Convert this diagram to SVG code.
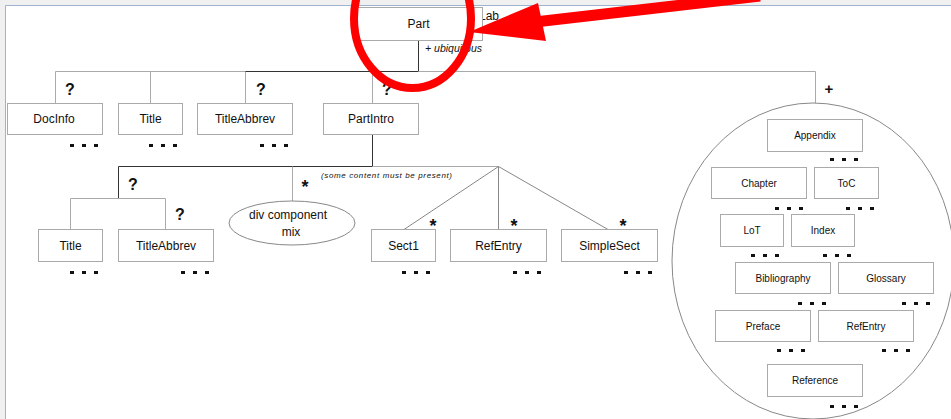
<svg xmlns="http://www.w3.org/2000/svg" width="951" height="419" viewBox="0 0 951 419">
<defs>
<style>
.box{fill:#fff;stroke:#aaa;stroke-width:1}
.lt{stroke:#aaa;stroke-width:1;fill:none}
.dk{stroke:#333;stroke-width:1;fill:none}
.md{stroke:#888;stroke-width:1;fill:none}
.t{font-family:"Liberation Sans",Arial,sans-serif;font-size:12px;text-anchor:middle;fill:#111}
.s{font-size:10px}
.mk{font-family:"Liberation Sans",Arial,sans-serif;font-weight:bold;fill:#111;text-anchor:middle}
.q{font-size:16px}
.st{font-size:18px}
.dots{stroke:#111;stroke-width:3;stroke-dasharray:4 8;fill:none}
.it{font-family:"Liberation Sans",Arial,sans-serif;font-style:italic;fill:#111}
</style>
</defs>
<rect width="951" height="419" fill="#f0f0f0"/>
<rect x="6" y="6" width="945" height="413" fill="#fff"/>
<path d="M5.5 419V5.5H951" fill="none" stroke="#9fb2ce" stroke-width="1"/>

<g id="connectors">
<path class="dk" d="M418.5 40V71.5H245"/>
<path class="lt" d="M245 71.5H55.5V103"/>
<path class="lt" d="M150.5 71.5V103"/>
<path class="lt" d="M245.5 71.5V103"/>
<path class="lt" d="M372.5 71.5V103"/>
<path class="lt" d="M418.5 71.5H815.5V103"/>
<path class="dk" d="M372.5 134V166.5H118.5V198"/>
<path class="lt" d="M372.5 166.5H498.5"/>
<path class="lt" d="M70.5 229V198.5H165.5V229"/>
<path class="lt" d="M292.5 166.5V201"/>
<path class="md" d="M498.5 166.5L404 229.5M498.5 166.5V229.5M498.5 166.5L608 229.5"/>
<ellipse cx="813" cy="261" rx="141" ry="158" fill="none" stroke="#888" stroke-width="1"/>
</g>

<g id="labels">
<text class="mk q" x="70" y="95">?</text>
<text class="mk q" x="261" y="95">?</text>
<text class="mk q" x="387" y="95">?</text>
<text class="mk q" x="133" y="190">?</text>
<text class="mk q" x="180" y="220">?</text>
<text class="mk st" x="305" y="193">*</text>
<text class="mk st" x="433" y="232">*</text>
<text class="mk st" x="514" y="232">*</text>
<text class="mk st" x="623" y="232">*</text>
<text class="mk" x="829" y="94" font-size="15">+</text>
<text class="it" x="321" y="178" font-size="8" textLength="131" lengthAdjust="spacing">(some content must be present)</text>
<text class="it" x="425" y="52" font-size="10" textLength="57" lengthAdjust="spacingAndGlyphs">+ ubiquitous</text>
<text class="t" x="489" y="20" font-size="11" text-anchor="start">Lab</text>
</g>

<g id="part"><rect class="box" x="355.5" y="7.5" width="127" height="33"/><text class="t" x="418.5" y="28">Part</text></g>
<g id="docinfo"><rect class="box" x="7.5" y="103.5" width="95" height="31"/><text class="t" x="54" y="123">DocInfo</text><path class="dots" d="M70 145.5h28"/></g>
<g id="title"><rect class="box" x="118.5" y="103.5" width="64" height="31"/><text class="t" x="150.5" y="123">Title</text><path class="dots" d="M149 145.5h28"/></g>
<g id="titleabbrev"><rect class="box" x="197.5" y="103.5" width="95" height="31"/><text class="t" x="245" y="123">TitleAbbrev</text><path class="dots" d="M260 145.5h28"/></g>
<g id="partintro"><rect class="box" x="323.5" y="103.5" width="95" height="31"/><text class="t" x="371" y="123">PartIntro</text></g>

<g id="title2"><rect class="box" x="38.5" y="229.5" width="64" height="32"/><text class="t" x="70.5" y="250">Title</text><path class="dots" d="M70 272.5h28"/></g>
<g id="titleabbrev2"><rect class="box" x="118.5" y="229.5" width="95" height="32"/><text class="t" x="166" y="250">TitleAbbrev</text><path class="dots" d="M181 272.5h28"/></g>
<g id="divmix"><ellipse cx="292" cy="223" rx="63" ry="22" fill="#fff" stroke="#888"/><text class="t" x="288" y="219">div component</text><text class="t" x="291" y="236">mix</text></g>
<g id="sect1"><rect class="box" x="371.5" y="229.5" width="64" height="32"/><text class="t" x="403.5" y="250">Sect1</text><path class="dots" d="M402 272.5h28"/></g>
<g id="refentry"><rect class="box" x="450.5" y="229.5" width="96" height="32"/><text class="t" x="498.5" y="250">RefEntry</text><path class="dots" d="M513 272.5h28"/></g>
<g id="simplesect"><rect class="box" x="561.5" y="229.5" width="96" height="32"/><text class="t" x="609.5" y="250">SimpleSect</text><path class="dots" d="M624 272.5h28"/></g>

<g id="appendix"><rect class="box" x="767.5" y="119.5" width="95" height="32"/><text class="t s" x="815" y="139">Appendix</text><path class="dots" d="M830 159.5h28"/></g>
<g id="chapter"><rect class="box" x="711.5" y="167.5" width="95" height="31"/><text class="t s" x="759" y="187">Chapter</text><path class="dots" d="M775 208.5h28"/></g>
<g id="toc"><rect class="box" x="814.5" y="167.5" width="64" height="31"/><text class="t s" x="846.5" y="187">ToC</text><path class="dots" d="M846 208.5h28"/></g>
<g id="lot"><rect class="box" x="720.5" y="214.5" width="63" height="32"/><text class="t s" x="752" y="234">LoT</text><path class="dots" d="M751 255.5h28"/></g>
<g id="index"><rect class="box" x="791.5" y="214.5" width="63" height="32"/><text class="t s" x="823" y="234">Index</text><path class="dots" d="M823 255.5h28"/></g>
<g id="bibliography"><rect class="box" x="735.5" y="262.5" width="95" height="31"/><text class="t s" x="783" y="282">Bibliography</text><path class="dots" d="M798 303.5h28"/></g>
<g id="glossary"><rect class="box" x="838.5" y="262.5" width="95" height="31"/><text class="t s" x="886" y="282">Glossary</text><path class="dots" d="M902 303.5h28"/></g>
<g id="preface"><rect class="box" x="715.5" y="310.5" width="95" height="31"/><text class="t s" x="763" y="330">Preface</text><path class="dots" d="M777 350.5h28"/></g>
<g id="refentry2"><rect class="box" x="818.5" y="310.5" width="95" height="31"/><text class="t s" x="866" y="330">RefEntry</text><path class="dots" d="M882 350.5h28"/></g>
<g id="reference"><rect class="box" x="767.5" y="364.5" width="95" height="32"/><text class="t s" x="815" y="384">Reference</text><path class="dots" d="M830 406.5h28"/></g>

<g id="annotation">
<ellipse cx="412.5" cy="18.5" rx="58.5" ry="69.5" fill="none" stroke="#ff0000" stroke-width="8"/>
<line x1="535" y1="22" x2="760" y2="-4" stroke="#ff0000" stroke-width="11"/>
<polygon points="469,32 538,3 546,41" fill="#ff0000"/>
</g>
</svg>
